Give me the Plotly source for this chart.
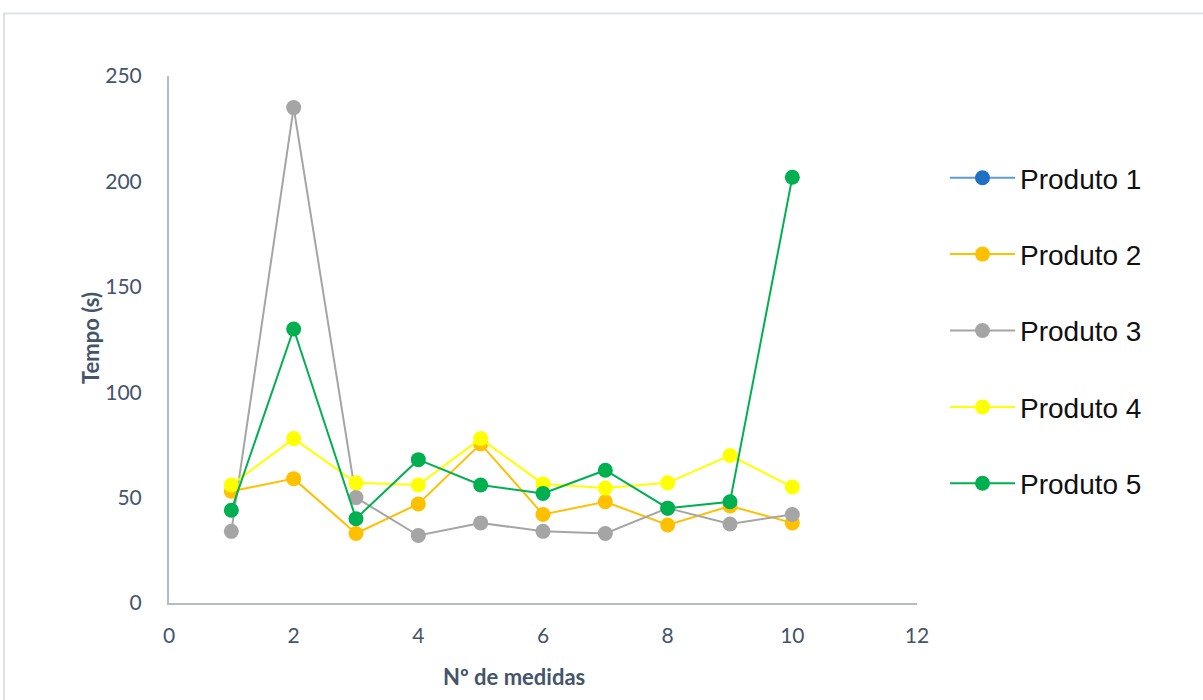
import plotly.graph_objects as go

# Measurement index
medidas = [1, 2, 3, 4, 5, 6, 7, 8, 9, 10]

# Time (s) per product
produto_1 = [None] * 10
produto_2 = [53, 59, 33, 47, 75.5, 42, 48, 37, 46, 38]
produto_3 = [34, 235, 50, 32, 38, 34, 33, 45, 37.5, 42]
produto_4 = [56, 78, 57, 56, 78, 56.5, 54.5, 57, 70, 55]
produto_5 = [44, 130, 40, 68, 56, 52, 63, 45, 48, 202]

series = [
    ("Produto 1", produto_1, "#5B9BD5", "#1F6FC5"),
    ("Produto 2", produto_2, "#FFC000", "#FFC000"),
    ("Produto 3", produto_3, "#A5A5A5", "#A5A5A5"),
    ("Produto 4", produto_4, "#FFFF00", "#FFFF00"),
    ("Produto 5", produto_5, "#00B050", "#00B050"),
]

x_ticks = [0, 2, 4, 6, 8, 10, 12]
y_ticks = [0, 50, 100, 150, 200, 250]

W, H = 1203, 700
L, R, T, B = 169, 286, 76, 97
PW, PH = W - L - R, H - T - B


def px(x):
    return (x - L) / PW


def py(y):
    return (H - B - y) / PH


fig = go.Figure()
for i, (name, vals, line_col, marker_col) in enumerate(series):
    fig.add_trace(go.Scatter(
        x=medidas, y=vals, name=name, mode="lines+markers",
        line=dict(color=line_col, width=2),
        marker=dict(color=marker_col, size=15),
        legendgroup=f"g{i}",
    ))

axis_font = dict(family="Lato, 'Open Sans', sans-serif", size=21, color="#44546A")
title_font = dict(family="Lato, 'Open Sans', sans-serif", size=22, color="#44546A")

fig.update_layout(
    width=W, height=H,
    margin=dict(l=L, r=R, t=T, b=B),
    paper_bgcolor="white", plot_bgcolor="white",
    showlegend=True,
    legend=dict(
        x=px(945), y=py(153), xanchor="left", yanchor="top",
        font=dict(family="'Liberation Sans', Arial, sans-serif", size=28, color="#111111"),
        tracegroupgap=37, itemwidth=65, bgcolor="rgba(0,0,0,0)",
    ),
    xaxis=dict(
        range=[0, 12], tickvals=x_ticks, showgrid=False, zeroline=False,
        showline=True, linecolor="#B4BCCB", linewidth=2, ticks="",
        tickfont=axis_font, ticklabelstandoff=13,
    ),
    yaxis=dict(
        range=[0, 250], tickvals=y_ticks, showgrid=False, zeroline=False,
        showline=True, linecolor="#B4BCCB", linewidth=2, ticks="",
        tickfont=axis_font, ticklabelstandoff=21,
    ),
    annotations=[
        dict(text="<b>Nº de medidas</b>", xref="paper", yref="paper",
             x=px(514), y=py(676), xanchor="center", yanchor="middle",
             showarrow=False, font=title_font),
        dict(text="<b>Tempo (s)</b>", xref="paper", yref="paper",
             x=px(90), y=py(338), xanchor="center", yanchor="middle",
             textangle=-90, showarrow=False, font=title_font),
    ],
    shapes=[
        dict(type="path", xref="paper", yref="paper",
             path=f"M {px(4)},{py(H)} L {px(4)},{py(13.5)} L {px(W)},{py(13.5)}",
             line=dict(color="#DDE2EA", width=2)),
    ],
)

fig.write_html("out.html")
